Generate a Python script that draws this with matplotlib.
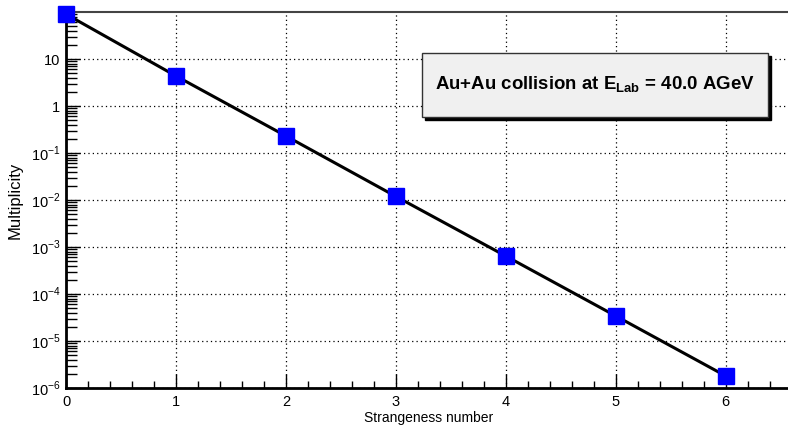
import numpy as np
import matplotlib.pyplot as plt
from matplotlib.patches import Rectangle
from matplotlib.ticker import FixedLocator, FixedFormatter, MultipleLocator

plt.rcParams['font.family'] = ['Liberation Sans', 'DejaVu Sans']
plt.rcParams['mathtext.fontset'] = 'custom'
plt.rcParams['mathtext.rm'] = 'Liberation Sans'
plt.rcParams['mathtext.bf'] = 'Liberation Sans:bold'

# multiplicity per strangeness number
strangeness = [0, 1, 2, 3, 4, 5, 6]
multiplicity = [90.0, 4.35, 0.23, 0.0119, 6.4e-4, 3.4e-5, 1.8e-6]

ytick_vals = [1e-6, 1e-5, 1e-4, 1e-3, 1e-2, 1e-1, 1, 10]
ytick_labels = [r'$10^{-6}$', r'$10^{-5}$', r'$10^{-4}$', r'$10^{-3}$',
                r'$10^{-2}$', r'$10^{-1}$', '1', '10']
xtick_vals = [0, 1, 2, 3, 4, 5, 6]

fig = plt.figure(figsize=(7.88, 4.26), dpi=100)
ax = fig.add_axes([0.0838, 0.0892, 0.921, 0.8826])

ax.plot(strangeness, multiplicity, color='black', lw=2.2, zorder=3)
ax.plot(strangeness, multiplicity, ls='none', marker='s', ms=12,
        color='#0000ff', mec='#0000ff', zorder=4, clip_on=False)

ax.set_yscale('log')
ax.set_xlim(0, 6.6)
ax.set_ylim(1e-6, 100)

ax.xaxis.set_major_locator(FixedLocator(xtick_vals))
ax.xaxis.set_minor_locator(MultipleLocator(0.2))
ax.yaxis.set_major_locator(FixedLocator(ytick_vals))
ax.yaxis.set_major_formatter(FixedFormatter(ytick_labels))
ax.yaxis.set_minor_locator(FixedLocator(
    [m * 10.0 ** e for e in range(-6, 2) for m in range(2, 10)]))
ax.yaxis.set_minor_formatter(FixedFormatter([]))

ax.tick_params(axis='both', which='both', direction='in', labelsize=10.5,
               colors='black')
ax.tick_params(axis='x', which='major', length=10, width=1, pad=5)
ax.tick_params(axis='x', which='minor', length=5, width=1)
ax.tick_params(axis='y', which='major', length=10, width=1, pad=4)
ax.tick_params(axis='y', which='minor', length=8, width=1)
ax.tick_params(top=False, right=False)

ax.grid(True, which='major', ls=(0, (1, 2.5)), color='black', lw=0.9)

for side in ['left', 'bottom']:
    ax.spines[side].set_linewidth(2)
ax.spines['top'].set_linewidth(1.5)
ax.spines['top'].set_color('#444444')
ax.spines['right'].set_visible(False)

ax.set_xlabel('Strangeness number', fontsize=10)
ax.xaxis.set_label_coords(0.5, -0.061)
ax.set_ylabel('Multiplicity', fontsize=12)
ax.yaxis.set_label_coords(-0.06, 0.5)

# title box with drop shadow
bx0, by0, bw, bh = 422 / 788, 1 - 117 / 426, 346 / 788, 64 / 426
fig.patches.append(Rectangle((bx0 + 3 / 788, by0 - 3 / 426), bw, bh,
                             transform=fig.transFigure, color='black', zorder=5))
fig.patches.append(Rectangle((bx0, by0), bw, bh, transform=fig.transFigure,
                             facecolor='#f0f0f0', edgecolor='#333333', lw=1,
                             zorder=6))
fig.text(bx0 + bw / 2, by0 + bh / 2,
         r'Au+Au collision at E$_{\mathbf{Lab}}$ = 40.0 AGeV',
         ha='center', va='center', fontsize=13.4, fontweight='bold', zorder=7)

fig.savefig('out.png', dpi=100)
